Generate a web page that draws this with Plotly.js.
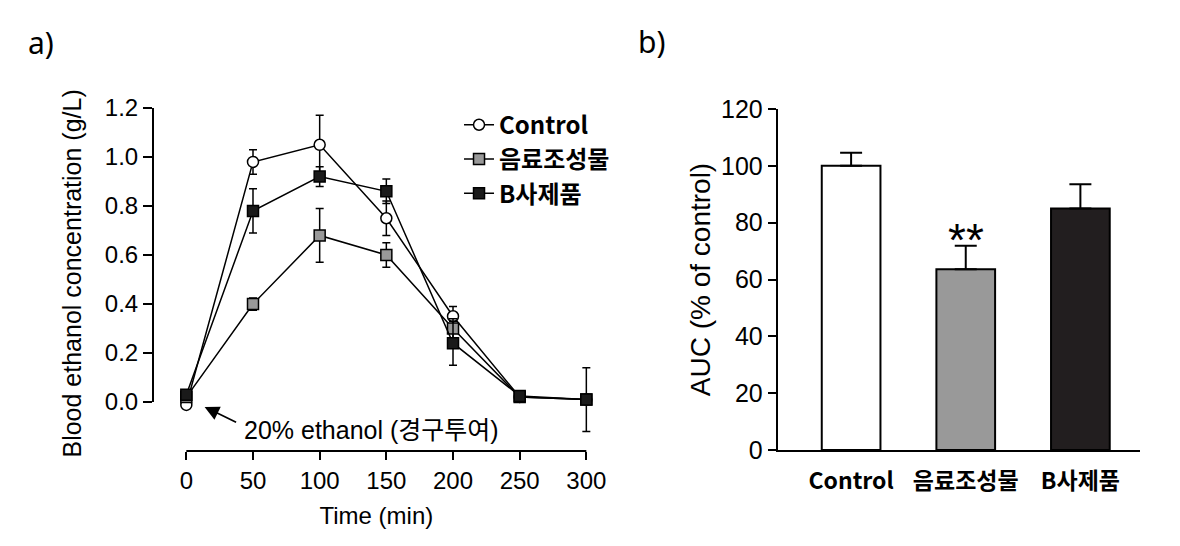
<!DOCTYPE html>
<html><head><meta charset="utf-8">
<script src="https://cdn.plot.ly/plotly-3.0.1.min.js"></script>
<style>body{margin:0;background:#fff}#c{width:1180px;height:546px}</style>
</head><body><div id="c"></div>
<script>
// ---- data ----
const time = [0, 50, 100, 150, 200, 250, 300];
const timeTicks = [0, 50, 100, 150, 200, 250, 300];
const controlMean = [-0.012, 0.98, 1.05, 0.75, 0.35, 0.02, 0.01];
const controlErr  = [0.01, 0.05, 0.12, 0.07, 0.04, 0.01, 0.01];
const drinkMean   = [0.02, 0.40, 0.68, 0.60, 0.30, 0.02, 0.01];
const drinkErr    = [0.01, 0.025, 0.11, 0.05, 0.04, 0.01, 0.01];
const bMean       = [0.03, 0.78, 0.92, 0.86, 0.24, 0.025, 0.01];
const bErr        = [0.01, 0.09, 0.04, 0.05, 0.09, 0.01, 0.13];
const seriesNames = ['Control', '음료조성물', 'B사제품'];
const aucCategories = ['Control', '음료조성물', 'B사제품'];
const aucMean = [100, 63.6, 85.0];
const aucErr  = [4.6, 8.3, 8.5];
const yTicksA = [0, 0.2, 0.4, 0.6, 0.8, 1.0, 1.2];
const yTicksB = [0, 20, 40, 60, 80, 100, 120];

const SANS = 'Liberation Sans, Arial, Noto Sans CJK KR, sans-serif';
const BOLDK = 'Noto Sans CJK KR, sans-serif';

function lineTrace(name, y, err, sym, fill) {
  return {
    type: 'scatter', mode: 'lines+markers', name: name,
    x: time, y: y, xaxis: 'x', yaxis: 'y',
    line: {color: '#000', width: 1.5},
    marker: {symbol: sym, size: 11, color: fill, line: {color: '#000', width: 1.5}},
    error_y: {type: 'data', array: err, visible: true, color: '#000', thickness: 1.5, width: 4}
  };
}

const traces = [
  lineTrace(seriesNames[0], controlMean, controlErr, 'circle', '#fff'),
  lineTrace(seriesNames[1], drinkMean, drinkErr, 'square', '#999'),
  lineTrace(seriesNames[2], bMean, bErr, 'square', '#1a1a1a'),
  {
    type: 'bar', x: aucCategories, y: aucMean, xaxis: 'x2', yaxis: 'y2',
    showlegend: false, width: 0.512,
    marker: {color: ['#ffffff', '#999999', '#221e1f'], line: {color: '#000', width: 2}},
    error_y: {type: 'data', array: aucErr, arrayminus: [0, 0, 0], symmetric: false,
              visible: true, color: '#000', thickness: 2, width: 11}
  }
];

const layout = {
  width: 1180, height: 546,
  margin: {l: 0, r: 0, t: 0, b: 0},
  paper_bgcolor: '#fff', plot_bgcolor: 'rgba(0,0,0,0)',
  font: {family: SANS, color: '#000'},
  showlegend: true,
  legend: {
    x: 0.389, y: 0.812, xanchor: 'left', yanchor: 'top',
    font: {family: BOLDK, size: 24, color: '#000', weight: 'bold'},
    bgcolor: 'rgba(0,0,0,0)', tracegroupgap: 0
  },
  xaxis: {
    domain: [0.12966, 0.5082], range: [-25, 310], anchor: 'y',
    showgrid: false, zeroline: false, showline: false,
    tickmode: 'array', tickvals: timeTicks, ticks: 'outside', ticklen: 8, tickwidth: 2, tickcolor: '#000',
    tickfont: {family: SANS, size: 24},
    title: {text: 'Time (min)', font: {family: SANS, size: 24}, standoff: 14}
  },
  yaxis: {
    domain: [0.174, 0.8246], range: [-0.2, 1.25], anchor: 'x',
    showgrid: false, zeroline: false, showline: false,
    tickmode: 'array', tickvals: yTicksA, tickformat: '.1f',
    ticks: 'outside', ticklen: 9, tickwidth: 2, tickcolor: '#000',
    tickfont: {family: SANS, size: 24},
    title: {text: 'Blood ethanol concentration (g/L)', font: {family: SANS, size: 25}, standoff: 16}
  },
  xaxis2: {
    domain: [0.6591, 0.9661], range: [-0.64, 2.52], anchor: 'y2',
    type: 'category', showgrid: false, zeroline: false,
    showline: true, linecolor: '#000', linewidth: 2,
    ticks: '', ticklabelstandoff: 9,
    tickfont: {family: BOLDK, size: 23, weight: 'bold'}
  },
  yaxis2: {
    domain: [0.1758, 0.8004], range: [0, 120], anchor: 'x2',
    showgrid: false, zeroline: false, showline: true, linecolor: '#000', linewidth: 2,
    tickmode: 'array', tickvals: yTicksB,
    ticks: 'outside', ticklen: 8, tickwidth: 2, tickcolor: '#000',
    tickfont: {family: SANS, size: 25},
    title: {text: 'AUC (% of control)', font: {family: SANS, size: 28}, standoff: 2}
  },
  shapes: [
    {type: 'line', xref: 'x domain', yref: 'y', x0: 0, x1: 0, y0: 0, y1: 1.2, line: {color: '#000', width: 2}},
    {type: 'line', xref: 'x', yref: 'y domain', x0: 0, x1: 300, y0: 0, y1: 0, line: {color: '#000', width: 2}}
  ],
  annotations: [
    {xref: 'x', yref: 'y', x: 41.5, y: -0.114, xanchor: 'left', yanchor: 'middle', showarrow: false,
     text: '20% ethanol (경구투여)', font: {family: SANS, size: 25}},
    {xref: 'x', yref: 'y', x: 13.7, y: -0.02, text: '', showarrow: true, ax: 33, ay: 16,
     arrowhead: 2, arrowsize: 1.7, arrowwidth: 1.7, arrowcolor: '#000'},
    {xref: 'x2', yref: 'y2', x: aucCategories[1], y: 74, yanchor: 'middle',
     text: '**', showarrow: false, font: {family: SANS, size: 46}},
    {xref: 'paper', yref: 'paper', x: 41 / 1180, y: 1 - 43 / 546, xanchor: 'center', yanchor: 'middle',
     text: 'a)', showarrow: false, font: {family: 'Noto Sans, sans-serif', size: 30}},
    {xref: 'paper', yref: 'paper', x: 652 / 1180, y: 1 - 42 / 546, xanchor: 'center', yanchor: 'middle',
     text: 'b)', showarrow: false, font: {family: 'Noto Sans, sans-serif', size: 30}}
  ]
};

Plotly.newPlot('c', traces, layout, {displayModeBar: false, staticPlot: true});
</script>
</body></html>
